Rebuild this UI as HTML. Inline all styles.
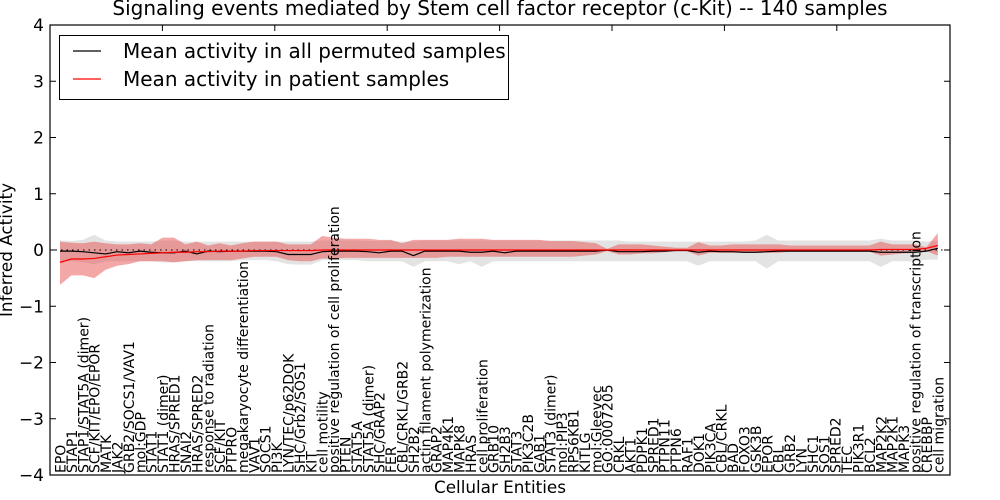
<!DOCTYPE html>
<html><head><meta charset="utf-8"><style>
body{margin:0;background:#fff;}
svg{display:block;font-family:"DejaVu Sans","Liberation Sans",sans-serif;}
</style></head><body>
<svg id="chart" width="1000" height="500" viewBox="0 0 1000 500">
<text x="500" y="15" text-anchor="middle" font-size="20">Signaling events mediated by Stem cell factor receptor (c-Kit) -- 140 samples</text>
<g id="bands"></g>
<g id="lines"></g>
<rect x="50" y="25" width="900" height="450" fill="none" stroke="#000" stroke-width="1.2"/>
<g id="yaxis"></g>
<g id="xlabels"></g>
<text transform="translate(12,250) rotate(-90)" text-anchor="middle" font-size="16.8">Inferred Activity</text>
<text x="500" y="493" text-anchor="middle" font-size="16.8">Cellular Entities</text>
<g>
<rect x="59.5" y="35.5" width="449" height="64" fill="#fff" stroke="#000" stroke-width="1"/>
<line x1="73" y1="51" x2="101" y2="51" stroke="#000" stroke-width="1.2"/>
<text x="123" y="58" font-size="20">Mean activity in all permuted samples</text>
<line x1="73" y1="79" x2="101" y2="79" stroke="#f00" stroke-width="1.2"/>
<text x="123" y="86" font-size="20">Mean activity in patient samples</text>
</g>
</svg>
<script>
const categories=["EPO","STAP1","STAP1/STAT5A (dimer)","SCF/KIT/EPO/EPOR","MATK","JAK2","GRB2/SOCS1/VAV1","mol:GDP","STAT1","STAT1 (dimer)","HRAS/SPRED1","SNAI2","HRAS/SPRED2","response to radiation","SCF/KIT","PTPRO","megakaryocyte differentiation","VAV1","SOCS1","PI3K","LYN/TEC/p62DOK","SHC/Grb2/SOS1","KIT","cell motility","positive regulation of cell proliferation","PTEN","STAT5A","STAT5A (dimer)","SHC/GRAP2","FER","CBL/CRKL/GRB2","SH2B2","actin filament polymerization","GRAP2","MAP4K1","MAPK8","HRAS","cell proliferation","GRB10","SH2B3","STAT3","PIK3C2B","GAB1","STAT3 (dimer)","mol:PIP3","RPS6KB1","KITLG","mol:Gleevec","GO:0007205","CRKL","AKT1","PDPK1","SPRED1","PTPN11","PTPN6","RAF1","DOK1","PIK3CA","CBL/CRKL","BAD","FOXO3","GSK3B","EPOR","CBL","GRB2","LYN","SHC1","SOS1","SPRED2","TEC","PIK3R1","BCL2","MAP2K2","MAP2K1","MAPK3","positive regulation of transcription","CREBBP","cell migration"];
const permutedMean=[-0.02,-0.02,-0.03,-0.05,-0.07,-0.03,-0.05,-0.02,-0.04,-0.05,-0.05,-0.02,-0.07,-0.02,-0.03,-0.02,-0.02,-0.02,-0.02,-0.03,-0.08,-0.08,-0.08,-0.03,-0.02,-0.02,-0.02,-0.03,-0.05,-0.02,-0.02,-0.1,-0.02,-0.02,-0.02,-0.02,-0.04,-0.04,-0.02,-0.05,-0.02,-0.02,-0.02,-0.02,-0.02,-0.02,-0.02,-0.02,0,-0.03,-0.03,-0.03,-0.02,-0.02,-0.01,-0.01,-0.04,-0.02,-0.03,-0.03,-0.04,-0.04,-0.03,-0.02,-0.02,-0.02,-0.02,-0.02,-0.02,-0.02,-0.02,-0.02,-0.04,-0.04,-0.04,-0.04,-0.02,0.03];
const patientMean=[-0.22,-0.16,-0.16,-0.15,-0.12,-0.09,-0.08,-0.07,-0.06,-0.05,-0.04,-0.04,-0.03,-0.03,-0.02,-0.02,-0.02,-0.01,-0.01,-0.01,-0.01,-0.01,-0.01,0,0,0,0,0,0,0,0,0,0,0,0,0,0,0,0,0,0,0,0,0,0,0,0,0,0,0,0,0,0,0,0,0,0,0,0,0,0,0,0,0,0,0,0,0,0,0,0,0,0.01,0.01,0.01,0.01,0.03,0.08];
const patientUpper=[0.15,0.13,0.12,0.15,0.12,0.1,0.1,0.12,0.1,0.22,0.22,0.1,0.15,0.08,0.12,0.08,0.12,0.15,0.15,0.15,0.1,0.1,0.1,0.25,0.22,0.2,0.2,0.2,0.18,0.18,0.12,0.18,0.18,0.18,0.18,0.2,0.2,0.2,0.18,0.18,0.18,0.18,0.18,0.16,0.16,0.16,0.14,0.12,0.02,0.1,0.1,0.1,0.08,0.06,0.04,0.04,0.14,0.08,0.08,0.1,0.1,0.1,0.1,0.1,0.08,0.08,0.08,0.08,0.08,0.08,0.08,0.08,0.15,0.1,0.1,0.1,0.05,0.3];
const patientLower=[-0.62,-0.45,-0.45,-0.5,-0.35,-0.28,-0.25,-0.2,-0.2,-0.2,-0.22,-0.2,-0.18,-0.18,-0.18,-0.18,-0.15,-0.12,-0.12,-0.12,-0.18,-0.2,-0.2,-0.15,-0.15,-0.14,-0.14,-0.14,-0.14,-0.14,-0.14,-0.14,-0.14,-0.14,-0.12,-0.12,-0.12,-0.12,-0.12,-0.12,-0.12,-0.12,-0.12,-0.12,-0.12,-0.12,-0.1,-0.08,-0.02,-0.08,-0.08,-0.06,-0.06,-0.04,-0.02,-0.02,-0.1,-0.05,-0.05,-0.05,-0.05,-0.05,-0.05,-0.05,-0.03,-0.03,-0.03,-0.03,-0.03,-0.03,-0.03,-0.03,-0.1,-0.08,-0.06,-0.05,-0.02,-0.1];
const permutedUpper=[0.17,0.16,0.18,0.27,0.17,0.15,0.15,0.15,0.15,0.17,0.17,0.15,0.15,0.15,0.15,0.15,0.15,0.15,0.15,0.15,0.15,0.15,0.15,0.17,0.17,0.17,0.17,0.16,0.16,0.17,0.15,0.15,0.17,0.17,0.17,0.17,0.17,0.17,0.17,0.17,0.17,0.17,0.17,0.17,0.17,0.17,0.17,0.17,0.17,0.17,0.15,0.15,0.15,0.15,0.15,0.15,0.15,0.15,0.15,0.15,0.15,0.17,0.27,0.17,0.17,0.17,0.17,0.17,0.17,0.17,0.17,0.17,0.2,0.17,0.17,0.17,0.15,0.17];
const permutedLower=[-0.2,-0.2,-0.22,-0.25,-0.2,-0.2,-0.2,-0.2,-0.2,-0.22,-0.22,-0.2,-0.2,-0.2,-0.2,-0.2,-0.18,-0.18,-0.18,-0.2,-0.25,-0.26,-0.26,-0.18,-0.18,-0.18,-0.18,-0.2,-0.2,-0.2,-0.2,-0.3,-0.2,-0.2,-0.2,-0.25,-0.2,-0.3,-0.2,-0.2,-0.2,-0.2,-0.2,-0.2,-0.2,-0.2,-0.2,-0.2,-0.2,-0.2,-0.2,-0.2,-0.2,-0.2,-0.2,-0.2,-0.28,-0.2,-0.2,-0.2,-0.2,-0.2,-0.33,-0.2,-0.2,-0.2,-0.2,-0.2,-0.2,-0.2,-0.2,-0.2,-0.3,-0.2,-0.2,-0.2,-0.17,-0.17];
const yTicks=[4,3,2,1,0,-1,-2,-3,-4];
const yTickLabels=["4","3","2","1","0","\u22121","\u22122","\u22123","\u22124"];

const NS="http://www.w3.org/2000/svg";
const xScale=i=>60+i*11.4;
const yScale=v=>250-v*56.25;
function mk(tag,parent){const e=document.createElementNS(NS,tag);parent.appendChild(e);return e;}
function bandPath(up,lo){let d="";up.forEach((v,i)=>{d+=(i?"L":"M")+xScale(i)+","+yScale(v);});for(let i=lo.length-1;i>=0;i--)d+="L"+xScale(i)+","+yScale(lo[i]);return d+"Z";}
function linePts(a){return a.map((v,i)=>xScale(i)+","+yScale(v)).join(" ");}
const bands=document.getElementById('bands');
const g1=mk('path',bands);g1.setAttribute('d',bandPath(permutedUpper,permutedLower));g1.setAttribute('fill','#e3e3e3');


const g2=mk('path',bands);g2.setAttribute('d',bandPath(patientUpper,patientLower));g2.setAttribute('fill','rgba(232,80,80,0.5)');


const lines=document.getElementById('lines');
const z=mk('line',lines);z.setAttribute('x1',50);z.setAttribute('x2',950);z.setAttribute('y1',yScale(0));z.setAttribute('y2',yScale(0));z.setAttribute('stroke','#000');z.setAttribute('stroke-dasharray','1.5,4');


const pl=mk('polyline',lines);pl.setAttribute('points',linePts(permutedMean));pl.setAttribute('fill','none');pl.setAttribute('stroke','#000');pl.setAttribute('stroke-width','1.2');


const rl=mk('polyline',lines);rl.setAttribute('points',linePts(patientMean));rl.setAttribute('fill','none');rl.setAttribute('stroke','#f00');rl.setAttribute('stroke-width','1.2');


const ya=document.getElementById('yaxis');
yTicks.forEach((v,k)=>{
 const t=mk('line',ya);t.setAttribute('x1',50);t.setAttribute('x2',56);t.setAttribute('y1',yScale(v));t.setAttribute('y2',yScale(v));t.setAttribute('stroke','#000');
 
 
 const t2=mk('line',ya);t2.setAttribute('x1',944);t2.setAttribute('x2',950);t2.setAttribute('y1',yScale(v));t2.setAttribute('y2',yScale(v));t2.setAttribute('stroke','#000');
 
 
 const l=mk('text',ya);l.setAttribute('x',44);l.setAttribute('y',yScale(v)+6);l.setAttribute('text-anchor','end');l.setAttribute('font-size','17');l.textContent=yTickLabels[k];
 
 
});
for(let k=1;k<8;k++){
 const x=50+k*112.4;
 const t=mk('line',ya);t.setAttribute('x1',x);t.setAttribute('x2',x);t.setAttribute('y1',25);t.setAttribute('y2',31);t.setAttribute('stroke','#000');
 
 
}
const xl=document.getElementById('xlabels');
categories.forEach((c,i)=>{
 const x=xScale(i)+5.5,y=473;
 const t=mk('text',xl);t.setAttribute('transform','translate('+x+','+y+') rotate(-90)');t.setAttribute('font-size','14');t.textContent=c;
 
 
});
</script>
</body></html>
